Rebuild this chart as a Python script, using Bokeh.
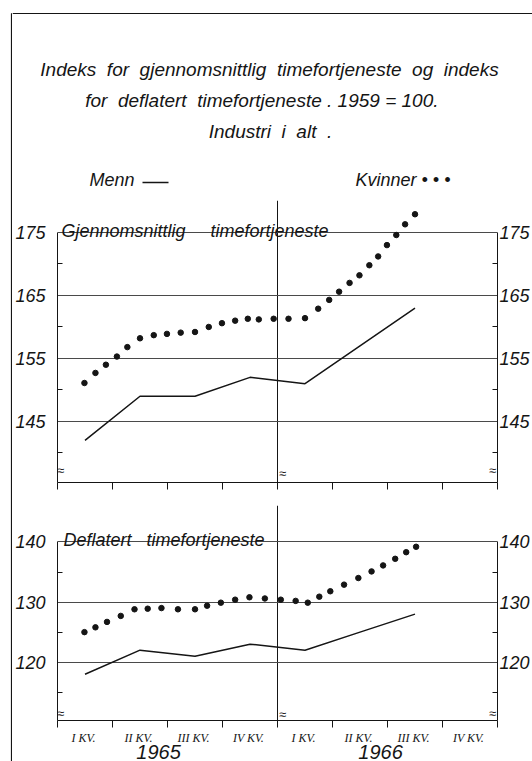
from bokeh.plotting import figure
from bokeh.models import Range1d, FixedTicker, LinearAxis, Span, Label
from bokeh.layouts import column, row
from bokeh.embed import file_html
from bokeh.resources import INLINE

# ---------------- data ----------------
quarter_labels = ["I  KV.", "II  KV.", "III  KV.", "IV  KV.", "I  KV.", "II  KV.", "III  KV.", "IV  KV."]
years = ["1965", "1966"]
quarter_pos = [0.5, 1.5, 2.5, 3.5, 4.5, 5.5, 6.5]

menn_time = [142, 149, 149, 152, 151, 157, 163]
menn_defl = [118, 122, 121, 123, 122, 125, 128]

kv_time_x = [0.49, 0.69, 0.88, 1.08, 1.27, 1.50, 1.75, 1.99, 2.24, 2.50, 2.75, 2.99, 3.23, 3.46,
             3.66, 3.93, 4.20, 4.50, 4.74, 4.94, 5.12, 5.31, 5.49, 5.67, 5.83, 5.99, 6.16, 6.32, 6.50]
kv_time_y = [151.1, 152.7, 154.0, 155.3, 156.8, 158.2, 158.7, 158.9, 159.1, 159.2, 160.0, 160.6, 161.0, 161.3,
             161.2, 161.3, 161.3, 161.4, 162.9, 164.3, 165.6, 167.0, 168.2, 169.8, 171.2, 173.0, 174.6, 176.3, 177.9]

kv_defl_x = [0.49, 0.69, 0.90, 1.15, 1.40, 1.64, 1.89, 2.19, 2.50, 2.72, 2.97, 3.23, 3.49, 3.77,
             4.06, 4.33, 4.55, 4.76, 4.96, 5.21, 5.47, 5.71, 5.92, 6.14, 6.34, 6.52]
kv_defl_y = [125.0, 125.8, 126.7, 127.7, 128.8, 128.9, 129.0, 128.8, 128.8, 129.4, 129.9, 130.4, 130.8, 130.6,
             130.4, 130.2, 129.9, 130.9, 131.8, 132.9, 134.0, 135.1, 136.1, 137.2, 138.3, 139.2]

top_major = [145, 155, 165, 175]
top_minor = [140, 150, 160, 170]
bot_major = [120, 130, 140]
bot_minor = [115, 125, 135]

FONT = "Liberation Sans"
INK = "#151515"
GRID = "#4a4a4a"
SP = " \u00a0"   # a wide word gap, as in the hand lettering


# page-pixel layout helpers (text placement only)
def qx(px):           # page x -> quarter units
    return (px - 55) / 55.5


def ty(py):           # page y -> top-panel value
    return 175 - (py - 232) / 6.297


def by(py):           # page y -> bottom-panel value
    return 140 - (py - 543) / 6.263


def label(p, x, y, s, size="18px", align="left", baseline="middle"):
    p.add_layout(Label(x=x, y=y, text=s, text_font=FONT, text_font_style="italic", text_font_size=size,
                       text_color=INK, text_align=align, text_baseline=baseline))


def panel(height, y_lo, y_hi, y_top_vis, major, minor, bottom_border):
    p = figure(width=520, height=height, x_range=Range1d(0, 8), y_range=Range1d(y_lo, y_hi),
               output_backend="svg", toolbar_location=None, title=None,
               min_border_left=43, min_border_right=33, min_border_top=0, min_border_bottom=bottom_border)
    p.outline_line_color = None
    p.background_fill_color = "white"
    p.border_fill_color = "white"
    # left axis
    ax = p.yaxis[0]
    ax.ticker = FixedTicker(ticks=major, minor_ticks=minor)
    ax.bounds = (y_lo, y_top_vis)
    # right axis
    rax = LinearAxis(ticker=FixedTicker(ticks=major, minor_ticks=minor), bounds=(y_lo, y_top_vis))
    p.add_layout(rax, "right")
    for a, standoff in [(ax, 12), (rax, 2)]:
        a.axis_line_color = INK
        a.major_tick_in = 0
        a.major_tick_out = 0
        a.minor_tick_in = 5
        a.minor_tick_out = 0
        a.minor_tick_line_color = INK
        a.major_label_text_font = FONT
        a.major_label_text_font_style = "italic"
        a.major_label_text_font_size = "18px"
        a.major_label_text_color = INK
        a.major_label_standoff = standoff
    # horizontal grid lines (incl. top frame line)
    p.ygrid.ticker = FixedTicker(ticks=major)
    p.ygrid.grid_line_color = GRID
    p.ygrid.grid_line_width = 1
    # year divider
    p.xgrid.ticker = FixedTicker(ticks=[4])
    p.xgrid.bounds = (y_lo, y_top_vis)
    p.xgrid.grid_line_color = INK
    p.xgrid.grid_line_width = 1
    # bottom axis with quarter boundary ticks
    xa = p.xaxis[0]
    xa.axis_line_color = INK
    xa.major_tick_out = 0
    xa.major_tick_in = 0
    xa.minor_tick_out = 7
    xa.minor_tick_in = 0
    xa.minor_tick_line_color = INK
    return p


# ---------------- left page edge ----------------
edge = figure(width=12, height=761, x_range=Range1d(0, 12), y_range=Range1d(761, 0),
              output_backend="svg", toolbar_location=None, x_axis_type=None, y_axis_type=None,
              min_border=0, title=None)
edge.frame_align = False
edge.outline_line_color = None
edge.grid.visible = False
edge.segment(x0=[11, 11], y0=[13, 13], x1=[11, 12], y1=[761, 13], line_color=INK, line_width=1.2)

# ---------------- header: titles and key ----------------
head = figure(width=520, height=200, x_range=Range1d(12, 532), y_range=Range1d(200, 0),
              output_backend="svg", toolbar_location=None, x_axis_type=None, y_axis_type=None,
              min_border=0, title=None)
head.frame_align = False
head.outline_line_color = None
head.grid.visible = False
head.add_layout(Span(location=13, dimension="width", line_color=INK, line_width=1.2))
label(head, 269, 69, SP.join(["Indeks", "for", "gjennomsnittlig", "timefortjeneste", "og", "indeks"]),
      "19px", "center")
label(head, 264, 100, "for" + SP + "deflatert" + SP + "timefortjeneste .  1959 = 100.", "19px", "center")
label(head, 270, 131, SP.join(["Industri", "i", "alt", "."]), "19px", "center")
label(head, 89, 179, "Menn")
head.segment(x0=[142], y0=[182], x1=[168], y1=[182], line_color=INK, line_width=1.4)
label(head, 355, 179, "Kvinner • • •")

# ---------------- top panel ----------------
p1 = panel(305, 135.3, ty(200), 175, top_major, top_minor, 23)
p1.xaxis.ticker = FixedTicker(ticks=[], minor_ticks=list(range(9)))
p1.line(quarter_pos, menn_time, line_width=1.5, line_color=INK)
p1.scatter(kv_time_x, kv_time_y, size=5.5, color=INK)
label(p1, qx(59), ty(230), "Gjennomsnittlig" + " \u00a0 \u00a0 " + "timefortjeneste", "18px", "left", "alphabetic")
for bx, byy in [(58, 470), (282, 473), (494, 470)]:
    label(p1, qx(bx), ty(byy), "≈", "13px", "center")

# ---------------- bottom panel ----------------
p2 = panel(256, 110.3, by(505), 140, bot_major, bot_minor, 32)
xa = p2.xaxis[0]
xa.ticker = FixedTicker(ticks=[i + 0.5 for i in range(8)], minor_ticks=list(range(9)))
xa.major_label_overrides = {i + 0.5: lab for i, lab in enumerate(quarter_labels)}
xa.major_label_text_font = "Liberation Serif"
xa.major_label_text_font_style = "italic"
xa.major_label_text_font_size = "12px"
xa.major_label_text_color = INK
xa.major_label_standoff = 3

year_pos = [qx(157), qx(381)]
yax = LinearAxis(ticker=FixedTicker(ticks=year_pos, minor_ticks=[]),
                 major_label_overrides={year_pos[0]: years[0], year_pos[1]: years[1]})
yax.axis_line_color = None
yax.major_tick_line_color = None
yax.minor_tick_line_color = None
yax.major_label_text_font = FONT
yax.major_label_text_font_style = "italic"
yax.major_label_text_font_size = "20px"
yax.major_label_text_color = INK
yax.major_label_standoff = -9
p2.add_layout(yax, "below")

p2.line(quarter_pos, menn_defl, line_width=1.5, line_color=INK)
p2.scatter(kv_defl_x, kv_defl_y, size=5.5, color=INK)
label(p2, qx(61), by(541), "Deflatert" + " \u00a0 " + "timefortjeneste", "18px", "left", "alphabetic")
for bx, byy in [(58, 722), (282, 723), (494, 722)]:
    label(p2, qx(bx), by(byy), "≈", "13px", "center")

layout = row(edge, column(head, p1, p2, spacing=0), spacing=0)
open("out.html", "w").write(file_html(layout, INLINE))
